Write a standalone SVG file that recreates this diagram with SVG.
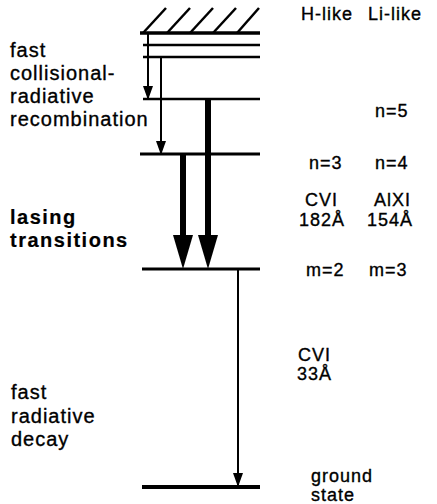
<svg xmlns="http://www.w3.org/2000/svg" width="437" height="504" viewBox="0 0 437 504">
<style>
text{font-family:"Liberation Sans",Arial,sans-serif;fill:#000;stroke:#000;stroke-width:0.35px}
.l{font-size:20px;letter-spacing:1px}
.b{font-size:20px;font-weight:bold;letter-spacing:1.5px;stroke-width:0.2px}
.r{font-size:18px;letter-spacing:1px}
.lvl{stroke:#000;fill:none}
.thin{stroke:#000;stroke-width:2;fill:none;marker-end:url(#hThin)}
.thick{stroke:#000;stroke-width:6;fill:none;marker-end:url(#hThick)}
</style>
<defs>
<marker id="hThin" markerUnits="userSpaceOnUse" viewBox="0 0 14 10" markerWidth="14" markerHeight="10" refX="13" refY="5" orient="auto"><path d="M0,0 L14,5 L0,10 Z" fill="#000"/></marker>
<marker id="hThick" markerUnits="userSpaceOnUse" viewBox="0 0 34 20" markerWidth="34" markerHeight="20" refX="8" refY="10" orient="auto"><path d="M0,0 L34,10 L0,20 Z" fill="#000"/></marker>
</defs>
<rect width="437" height="504" fill="#fff"/>

<g id="continuum">
<line class="lvl" x1="140" y1="33" x2="260" y2="33" stroke-width="3.5"/>
<g stroke="#000" stroke-width="2.5">
<line x1="143" y1="33" x2="166" y2="8"/>
<line x1="167" y1="33" x2="190" y2="8"/>
<line x1="190" y1="33" x2="213" y2="8"/>
<line x1="213" y1="33" x2="236" y2="8"/>
<line x1="237" y1="33" x2="259" y2="8"/>
</g>
<line class="lvl" x1="143" y1="45" x2="260" y2="45" stroke-width="2.5"/>
<line class="lvl" x1="143" y1="57" x2="260" y2="57" stroke-width="2.5"/>
<text class="r" x="301" y="20">H-like</text>
<text class="r" x="368" y="20">Li-like</text>
</g>

<g id="level-n5">
<line class="lvl" x1="143" y1="99" x2="260" y2="99" stroke-width="2.5"/>
<text class="r" x="375" y="117">n=5</text>
</g>

<g id="level-n3">
<line class="lvl" x1="140" y1="154" x2="260" y2="154" stroke-width="3"/>
<text class="r" x="309" y="169">n=3</text>
<text class="r" x="375" y="169">n=4</text>
</g>

<g id="level-m">
<line class="lvl" x1="142" y1="269" x2="260" y2="269" stroke-width="3"/>
<text class="r" x="306" y="276">m=2</text>
<text class="r" x="369" y="276">m=3</text>
</g>

<g id="level-ground">
<line class="lvl" x1="142" y1="487" x2="260" y2="487" stroke-width="4"/>
<text class="r" x="311" y="482">ground</text>
<text class="r" x="311" y="501">state</text>
</g>

<g id="label-recombination">
<text class="l" x="10" y="57">fast</text>
<text class="l" x="10" y="80">collisional-</text>
<text class="l" x="10" y="103">radiative</text>
<text class="l" x="10" y="126">recombination</text>
</g>

<g id="label-lasing">
<text class="b" x="10" y="224">lasing</text>
<text class="b" x="10" y="247">transitions</text>
<text class="r" x="305" y="206">CVI</text>
<text class="r" x="299" y="226">182Å</text>
<text class="r" x="374" y="206">AlXI</text>
<text class="r" x="367" y="226">154Å</text>
</g>

<g id="label-decay">
<text class="l" x="11" y="399">fast</text>
<text class="l" x="11" y="423">radiative</text>
<text class="l" x="11" y="446">decay</text>
<text class="r" x="298" y="361">CVI</text>
<text class="r" x="297" y="380">33Å</text>
</g>

<g id="connectors">
<line class="thin" x1="148" y1="34" x2="148" y2="99"/>
<line class="thin" x1="161" y1="57" x2="161" y2="154"/>
<line class="thick" x1="183" y1="154" x2="183" y2="243"/>
<line class="thick" x1="208" y1="99" x2="208" y2="243"/>
<line class="thin" x1="238" y1="269" x2="238" y2="486"/>
</g>
</svg>
